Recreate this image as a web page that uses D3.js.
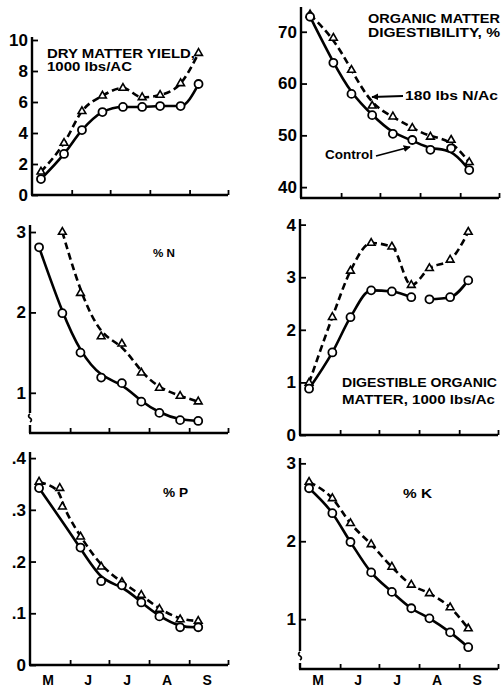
<!DOCTYPE html>
<html>
<head>
<meta charset="utf-8">
<script src="https://cdn.jsdelivr.net/npm/d3@7"></script>
<style>
  body { margin: 0; background: #fff; }
  svg { display: block; }
  text { font-family: "Liberation Sans", Arial, Helvetica, sans-serif; font-weight: bold; fill: #000; }
</style>
</head>
<body>
<svg id="chart" width="501" height="689"></svg>
<script>
// ---- sampling calendar ----
const parseDay = d3.timeParse("%m-%d");
const seasonStart = "05-01";
const seasonEnd = "10-01";
const sampleDates = ["05-08", "05-26", "06-09", "06-25", "07-11", "07-26", "08-09", "08-25", "09-08"];
const monthLabels = ["M", "J", "J", "A", "S"];

// ---- dry matter yield, 1000 lbs/AC ----
const dryMatterControl = [1.03, 2.65, 4.19, 5.35, 5.68, 5.68, 5.74, 5.74, 7.16];
const dryMatterN180 = [1.5, 3.35, 5.4, 6.4, 6.9, 6.3, 6.45, 7.2, 9.15];
const dryMatterTicks = [0, 2, 4, 6, 8, 10];

// ---- organic matter digestibility, % ----
const digestControl = [72.9, 64.0, 58.0, 53.9, 50.3, 49.1, 47.2, 47.5, 43.3];
const digestN180 = [73.3, 68.8, 62.6, 55.7, 53.6, 51.4, 49.7, 49.1, 44.8];
const digestTicks = [40, 50, 60, 70];

// ---- % N ----
const nitrogenControl = [2.81, 1.99, 1.50, 1.19, 1.12, 0.89, 0.75, 0.66, 0.65];
const nitrogenN180 = [null, 3.0, 2.24, 1.70, 1.61, 1.25, 1.06, 0.96, 0.89];
const nitrogenTicks = [1, 2, 3];

// ---- digestible organic matter, 1000 lbs/Ac ----
const domControl = [0.88, 1.57, 2.24, 2.75, 2.73, 2.62, 2.58, 2.62, 2.94];
const domControlBreakAfter = 5;
const domN180 = [0.99, 2.24, 3.12, 3.65, 3.58, 2.85, 3.17, 3.33, 3.86];
const domTicks = [0, 1, 2, 3, 4];

// ---- % P ----
const phosControl = [0.342, null, 0.227, 0.162, 0.154, 0.121, 0.094, 0.073, 0.073];
const phosN180Dates = ["05-08", "05-24", "05-26", "06-09", "06-25", "07-11", "07-26", "08-09", "08-25", "09-08"];
const phosN180 = [0.354, 0.342, 0.306, 0.248, 0.190, 0.160, 0.135, 0.108, 0.088, 0.085];
const phosTicks = [0, 0.1, 0.2, 0.3, 0.4];
const phosTickLabels = ["0", ".1", ".2", ".3", ".4"];

// ---- % K ----
const potassiumControl = [2.68, 2.36, 1.99, 1.60, 1.35, 1.14, 1.01, 0.83, 0.64];
const potassiumN180 = [2.76, 2.55, 2.23, 1.96, 1.67, 1.44, 1.33, 1.15, 0.88];
const potassiumTicks = [1, 2, 3];

// ---- drawing ----
const svg = d3.select("#chart");
const seasonDomain = [parseDay(seasonStart), parseDay(seasonEnd)];
const monthStarts = d3.timeMonth.range(d3.timeMonth.offset(seasonDomain[0], 1), d3.timeDay.offset(seasonDomain[1], 1));
const monthMids = d3.timeMonth.range(seasonDomain[0], seasonDomain[1]).map(d => d3.timeDay.offset(d, 14));
const monthLabelBaseline = 685;

const defs = svg.append("defs");
defs.append("marker")
  .attr("id", "arrowhead")
  .attr("viewBox", "0 0 10 10")
  .attr("refX", 9).attr("refY", 5)
  .attr("markerWidth", 7).attr("markerHeight", 7)
  .attr("markerUnits", "userSpaceOnUse")
  .attr("orient", "auto")
  .append("path").attr("d", "M0,0 L10,5 L0,10 Z").attr("fill", "#000");

const toSeries = (dates, values) =>
  values.map((v, i) => ({ date: parseDay(dates[i]), v })).filter(d => d.v != null);

function drawPanel(p) {
  const x = d3.scaleTime().domain(seasonDomain).range([p.left, p.right]);
  const y = d3.scaleLinear().domain(p.yDomain).range([p.bottom, p.top]);
  const g = svg.append("g");

  // x axis: month boundaries as short inward ticks
  const xAxis = g.append("g")
    .attr("transform", `translate(0,${p.bottom})`)
    .call(d3.axisBottom(x).tickValues(monthStarts).tickSize(-5).tickSizeOuter(0).tickFormat(""));
  xAxis.select(".domain").attr("stroke-width", 2.6).attr("d", `M${p.left - 1},0H${p.right}`);
  xAxis.selectAll(".tick line").attr("stroke-width", 1.8);

  // y axis with inward ticks
  const yAxis = g.append("g")
    .attr("transform", `translate(${p.left},0)`)
    .call(d3.axisLeft(y).tickValues(p.ticks).tickSize(-6).tickSizeOuter(0).tickPadding(4)
      .tickFormat((d, i) => p.tickLabels ? p.tickLabels[i] : String(d)));
  yAxis.select(".domain").remove();
  yAxis.selectAll(".tick line").attr("stroke-width", 1.8);
  yAxis.selectAll(".tick text")
    .attr("font-size", 17).attr("font-family", "\"Liberation Sans\", Arial, sans-serif")
    .attr("font-weight", "bold");

  const axisTop = p.top - 3;
  if (p.breakAt) {
    const [b0, b1] = p.breakAt;
    g.append("path").attr("fill", "none").attr("stroke", "#000").attr("stroke-width", 2.4)
      .attr("d", `M${p.left},${axisTop}V${b0}M${p.left},${b1}V${p.bottom}`);
    g.append("path").attr("fill", "none").attr("stroke", "#000").attr("stroke-width", 1.6)
      .attr("d", `M${p.left},${b0 + 1}q-3,2 0,4q3,2 0,4`);
  } else {
    g.append("line").attr("x1", p.left).attr("x2", p.left)
      .attr("y1", axisTop).attr("y2", p.bottom)
      .attr("stroke", "#000").attr("stroke-width", 2.4);
  }

  if (p.monthAxis) {
    g.selectAll("text.month").data(monthMids).join("text")
      .attr("class", "month")
      .attr("x", d => x(d)).attr("y", monthLabelBaseline)
      .attr("text-anchor", "middle").attr("font-size", 14)
      .text((d, i) => monthLabels[i]);
  }

  const line = d3.line().x(d => x(d.date)).y(d => y(d.v)).curve(p.curve);

  // 180 lbs N/Ac treatment: dashed line, triangles
  p.nitrogen.forEach(seg => {
    g.append("path").datum(seg).attr("d", line)
      .attr("fill", "none").attr("stroke", "#000").attr("stroke-width", 2.6)
      .attr("stroke-dasharray", "7,4");
  });
  // control: solid line, circles
  p.control.forEach(seg => {
    g.append("path").datum(seg).attr("d", line)
      .attr("fill", "none").attr("stroke", "#000").attr("stroke-width", 2.6);
  });

  const tri = d3.symbol().type(d3.symbolTriangle).size(26);
  g.selectAll("path.tri").data(p.nitrogen.flat()).join("path")
    .attr("class", "tri")
    .attr("transform", d => `translate(${x(d.date)},${y(d.v)})`)
    .attr("d", tri).attr("fill", "#fff").attr("stroke", "#000").attr("stroke-width", 1.6);
  g.selectAll("circle.ctl").data(p.control.flat()).join("circle")
    .attr("class", "ctl")
    .attr("cx", d => x(d.date)).attr("cy", d => y(d.v)).attr("r", 4)
    .attr("fill", "#fff").attr("stroke", "#000").attr("stroke-width", 1.8);

  return { g, x, y };
}

// dry matter yield
const dm = drawPanel({
  left: 32, right: 228, top: 40, bottom: 195, yDomain: [0, 10], ticks: dryMatterTicks,
  curve: d3.curveMonotoneX,
  control: [toSeries(sampleDates, dryMatterControl)],
  nitrogen: [toSeries(sampleDates, dryMatterN180)]
});
dm.g.append("text").attr("x", 47).attr("y", 58).attr("font-size", 13)
  .attr("textLength", 148).attr("lengthAdjust", "spacingAndGlyphs").text("DRY MATTER YIELD,");
dm.g.append("text").attr("x", 47).attr("y", 71).attr("font-size", 12)
  .attr("textLength", 85).attr("lengthAdjust", "spacingAndGlyphs").text("1000 lbs/AC");

// organic matter digestibility
const omd = drawPanel({
  left: 301, right: 499, top: 10, bottom: 198, yDomain: [37.9, 74.2], ticks: digestTicks,
  curve: d3.curveBasis,
  control: [toSeries(sampleDates, digestControl)],
  nitrogen: [toSeries(sampleDates, digestN180)]
});
omd.g.append("text").attr("x", 368).attr("y", 23).attr("font-size", 12)
  .attr("textLength", 132).attr("lengthAdjust", "spacingAndGlyphs").text("ORGANIC MATTER");
omd.g.append("text").attr("x", 368).attr("y", 37).attr("font-size", 12)
  .attr("textLength", 132).attr("lengthAdjust", "spacingAndGlyphs").text("DIGESTIBILITY, %");
omd.g.append("text").attr("x", 405).attr("y", 100).attr("font-size", 12)
  .attr("textLength", 93).attr("lengthAdjust", "spacingAndGlyphs").text("180 lbs N/Ac");
omd.g.append("line").attr("x1", 403).attr("y1", 96).attr("x2", 372).attr("y2", 97)
  .attr("stroke", "#000").attr("stroke-width", 1.8).attr("marker-end", "url(#arrowhead)");
omd.g.append("text").attr("x", 325).attr("y", 159).attr("font-size", 12)
  .attr("textLength", 48).attr("lengthAdjust", "spacingAndGlyphs").text("Control");
omd.g.append("line").attr("x1", 376).attr("y1", 156).attr("x2", 410).attr("y2", 147)
  .attr("stroke", "#000").attr("stroke-width", 1.8).attr("marker-end", "url(#arrowhead)");

// % N
const pn = drawPanel({
  left: 30, right: 228, top: 228, bottom: 433, yDomain: [0.5, 3.05], ticks: nitrogenTicks,
  breakAt: [413, 425],
  curve: d3.curveBasis,
  control: [toSeries(sampleDates, nitrogenControl)],
  nitrogen: [toSeries(sampleDates, nitrogenN180)]
});
pn.g.append("text").attr("x", 153).attr("y", 257).attr("font-size", 11)
  .attr("textLength", 22).attr("lengthAdjust", "spacingAndGlyphs").text("% N");

// digestible organic matter
const domCtl = toSeries(sampleDates, domControl);
const dom = drawPanel({
  left: 300, right: 498, top: 222, bottom: 435, yDomain: [0, 4.05], ticks: domTicks,
  curve: d3.curveMonotoneX,
  control: [domCtl.slice(0, domControlBreakAfter + 1), domCtl.slice(domControlBreakAfter + 1)],
  nitrogen: [toSeries(sampleDates, domN180)]
});
dom.g.append("text").attr("x", 342).attr("y", 387).attr("font-size", 13)
  .attr("textLength", 155).attr("lengthAdjust", "spacingAndGlyphs").text("DIGESTIBLE ORGANIC");
dom.g.append("text").attr("x", 342).attr("y", 404).attr("font-size", 13)
  .attr("textLength", 153).attr("lengthAdjust", "spacingAndGlyphs").text("MATTER, 1000 lbs/Ac");

// % P
const pp = drawPanel({
  left: 30, right: 228, top: 455, bottom: 665, yDomain: [0, 0.406], ticks: phosTicks,
  tickLabels: phosTickLabels, monthAxis: true,
  curve: d3.curveBasis,
  control: [toSeries(sampleDates, phosControl)],
  nitrogen: [toSeries(phosN180Dates, phosN180)]
});
pp.g.append("text").attr("x", 163).attr("y", 497).attr("font-size", 12)
  .attr("textLength", 25).attr("lengthAdjust", "spacingAndGlyphs").text("% P");

// % K
const pk = drawPanel({
  left: 300, right: 498, top: 461, bottom: 669, yDomain: [0.36, 3.03], ticks: potassiumTicks,
  monthAxis: true, breakAt: [651, 663],
  curve: d3.curveMonotoneX,
  control: [toSeries(sampleDates, potassiumControl)],
  nitrogen: [toSeries(sampleDates, potassiumN180)]
});
pk.g.append("text").attr("x", 403).attr("y", 498).attr("font-size", 12)
  .attr("textLength", 29).attr("lengthAdjust", "spacingAndGlyphs").text("% K");
</script>
</body>
</html>
